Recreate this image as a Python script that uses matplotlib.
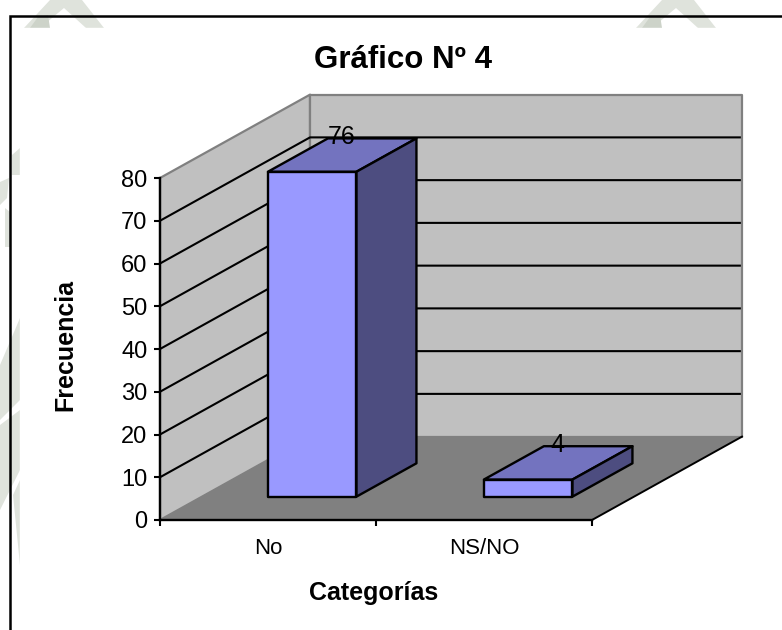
from matplotlib import pyplot as plt
from matplotlib.patches import Polygon, Rectangle
import numpy as np

plt.rcParams['font.family'] = ['Liberation Sans', 'DejaVu Sans']

categories = ["No", "NS/NO"]
values = [76, 4]
y_ticks = [0, 10, 20, 30, 40, 50, 60, 70, 80]

# oblique projection of the depth axis, in data units per unit of depth
depth_x = 150 / 216
depth_y = 19.5
bar_width = 0.41
bar_front = 0.28
bar_back = 0.68


def project(x, y, d):
    return (x + d * depth_x, y + d * depth_y)


def face(ax, pts, color, edge="black", lw=1.7, z=3):
    ax.add_patch(Polygon(pts, closed=True, facecolor=color, edgecolor=edge,
                         linewidth=lw, clip_on=False, zorder=z, joinstyle="round"))


fig = plt.figure(figsize=(7.82, 6.30), dpi=100)

# page background, in pixel coordinates
bg = fig.add_axes([0, 0, 1, 1], zorder=0)
bg.set_xlim(0, 782)
bg.set_ylim(630, 0)
bg.axis("off")
mark = "#dfe3dc"
for off in [0, 612]:
    bg.add_patch(Polygon([(50 + off, 0), (82 + off, 0), (104 + off, 28), (86 + off, 28),
                          (64 + off, 8), (40 + off, 28), (24 + off, 28)], color=mark, lw=0))
    bg.add_patch(Polygon([(30 + off, 28), (38 + off, 17), (48 + off, 15), (50 + off, 28)], color="#cdd3c9", lw=0))
for shape in [
    [(12, 155), (20, 148), (20, 175), (12, 175)],
    [(0, 182), (9, 178), (7, 198), (0, 205)],
    [(5, 208), (10, 212), (11, 247), (5, 247)],
    [(20, 318), (20, 400), (0, 420), (0, 365)],
    [(0, 425), (20, 410), (20, 470), (0, 510)],
    [(13, 495), (20, 480), (20, 565)],
]:
    bg.add_patch(Polygon(shape, color=mark, lw=0))
bg.add_patch(Rectangle((20, 28), 762, 602, color="white", zorder=2))
bg.plot([782, 10, 10], [15.5, 15.5, 630], color="black", lw=1.8, zorder=3, solid_joinstyle="miter")

ax = fig.add_axes([160 / 782, 110 / 630, 432 / 782, 342 / 630], zorder=1)
ax.set_xlim(0, 2)
ax.set_ylim(0, 80)
ax.patch.set_visible(False)

# walls and floor
face(ax, [project(0, 0, 0), project(0, 80, 0), project(0, 80, 1), project(0, 0, 1)], "#c0c0c0", "#808080", 1.6, 1)
face(ax, [project(0, 0, 1), project(0, 80, 1), project(2, 80, 1), project(2, 0, 1)], "#c0c0c0", "#808080", 1.6, 1)
face(ax, [project(0, 0, 0), project(0, 0, 1), project(2, 0, 1), project(2, 0, 0)], "#808080", "none", 0, 1.5)
ax.plot(*zip(project(2, 0, 0), project(2, 0, 1)), color="black", lw=1.4, clip_on=False, zorder=2)

# gridlines run along the left wall and then across the back wall
for t in y_ticks[1:-1]:
    pts = [project(0, t, 0), project(0, t, 1), project(1.99, t, 1)]
    ax.plot(*zip(*pts), color="black", lw=1.5, clip_on=False, zorder=2)

for i, v in enumerate(values):
    x0 = i + 0.51 - bar_width / 2
    x1 = x0 + bar_width
    face(ax, [project(x0, v, bar_front), project(x0, v, bar_back), project(x1, v, bar_back), project(x1, v, bar_front)], "#7373bf")
    face(ax, [project(x1, 0, bar_front), project(x1, v, bar_front), project(x1, v, bar_back), project(x1, 0, bar_back)], "#4d4d80")
    face(ax, [project(x0, 0, bar_front), project(x0, v, bar_front), project(x1, v, bar_front), project(x1, 0, bar_front)], "#9999ff")
    ax.annotate(str(v), project(i + 0.51, v, bar_front), xytext=(21, 25), textcoords="offset points",
                ha="center", va="center", fontsize=18, color="black", zorder=5, annotation_clip=False)

for side in ["top", "right"]:
    ax.spines[side].set_visible(False)
for side in ["left", "bottom"]:
    ax.spines[side].set_linewidth(1.7)
    ax.spines[side].set_zorder(4)

ax.set_yticks(y_ticks)
ax.set_xticks([0, 1, 2])
ax.set_xticklabels([])
ax.set_xticks([0.5, 1.5], minor=True)
ax.set_xticklabels(categories, minor=True)
ax.tick_params(axis="both", which="major", length=4, width=1.5, labelsize=17, pad=5)
ax.tick_params(axis="x", which="minor", length=0, labelsize=16, pad=13)

fig.text(403 / 782, 1 - 60.5 / 630, "Gráfico Nº 4", ha="center", va="center", fontsize=22.5, fontweight="bold")
fig.text(65 / 782, 1 - 345 / 630, "Frecuencia", ha="center", va="center", rotation=90, fontsize=18, fontweight="bold")
fig.text(374 / 782, 1 - 593 / 630, "Categorías", ha="center", va="center", fontsize=18, fontweight="bold")

fig.savefig("out.png", dpi=100)
